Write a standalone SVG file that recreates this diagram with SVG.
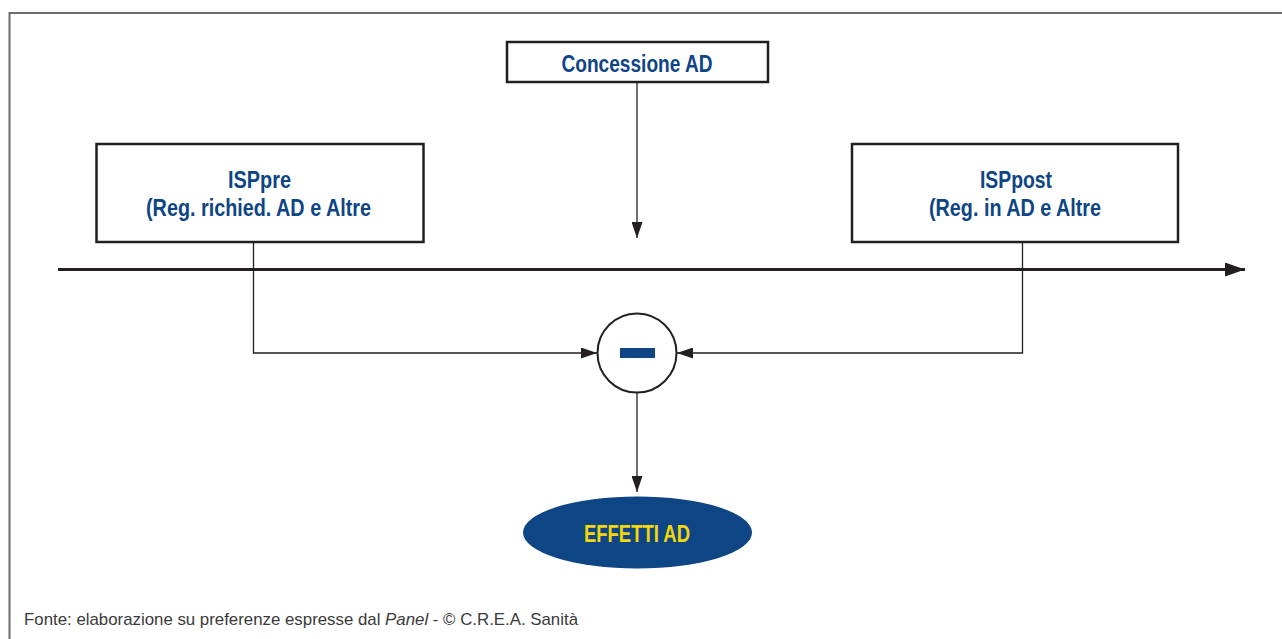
<svg xmlns="http://www.w3.org/2000/svg" width="1282" height="639" viewBox="0 0 1282 639">
<defs>
<style>
.box{fill:#fff;stroke:#231f20;stroke-width:2.5}
.lbl{font-family:"Liberation Sans",Arial,sans-serif;font-weight:bold;font-size:23px;fill:#0d4585;text-anchor:middle}
.conn{fill:none;stroke:#231f20;stroke-width:1.3}
.foot{font-family:"Liberation Sans",Arial,sans-serif;font-size:17px;fill:#3a3a3a}
</style>
<marker id="ah" viewBox="0 0 16 11" refX="16" refY="5.5" markerWidth="16" markerHeight="11" markerUnits="userSpaceOnUse" orient="auto">
<path d="M0,0 L16,5.5 L0,11 Z" fill="#231f20"/>
</marker>
<marker id="ahb" viewBox="0 0 20 14" refX="20" refY="7" markerWidth="20" markerHeight="14" markerUnits="userSpaceOnUse" orient="auto">
<path d="M0,0 L20,7 L0,14 Z" fill="#231f20"/>
</marker>
</defs>
<rect width="1282" height="639" fill="#fff"/>
<path d="M9.5,639 V13 H1282" fill="none" stroke="#6d6d6d" stroke-width="2"/>

<g id="connectors">
<line x1="58" y1="269.5" x2="1245" y2="269.5" stroke="#231f20" stroke-width="3" marker-end="url(#ahb)"/>
<line class="conn" x1="637" y1="83" x2="637" y2="238" marker-end="url(#ah)"/>
<polyline class="conn" points="253.5,243 253.5,353 597,353" marker-end="url(#ah)"/>
<polyline class="conn" points="1022.5,243 1022.5,353 677,353" marker-end="url(#ah)"/>
<line class="conn" x1="637" y1="393" x2="637" y2="492" marker-end="url(#ah)"/>
</g>

<g id="concessione">
<rect class="box" x="507" y="42" width="261" height="40"/>
<text class="lbl" x="637" y="71.5" textLength="151" lengthAdjust="spacingAndGlyphs">Concessione AD</text>
</g>

<g id="isppre">
<rect class="box" x="96.5" y="144" width="327" height="98"/>
<text class="lbl" x="259.5" y="188" textLength="63" lengthAdjust="spacingAndGlyphs">ISPpre</text>
<text class="lbl" x="258.5" y="216" textLength="225" lengthAdjust="spacingAndGlyphs">(Reg. richied. AD e Altre</text>
</g>

<g id="isppost">
<rect class="box" x="852" y="144" width="326" height="98"/>
<text class="lbl" x="1016" y="188" textLength="72" lengthAdjust="spacingAndGlyphs">ISPpost</text>
<text class="lbl" x="1015" y="216" textLength="172" lengthAdjust="spacingAndGlyphs">(Reg. in AD e Altre</text>
</g>

<g id="minus">
<circle cx="637" cy="353" r="39.5" fill="#fff" stroke="#231f20" stroke-width="2"/>
<rect x="620" y="348" width="35" height="10" fill="#0d4585"/>
</g>

<g id="effetti">
<ellipse cx="637.5" cy="532.5" rx="114.5" ry="36" fill="#0d4585"/>
<text class="lbl" x="637" y="542" style="fill:#f5d60a" textLength="106" lengthAdjust="spacingAndGlyphs">EFFETTI AD</text>
</g>

<text class="foot" x="24" y="625" textLength="554" lengthAdjust="spacingAndGlyphs">Fonte: elaborazione su preferenze espresse dal <tspan font-style="italic">Panel</tspan> - © C.R.E.A. Sanità</text>
</svg>
